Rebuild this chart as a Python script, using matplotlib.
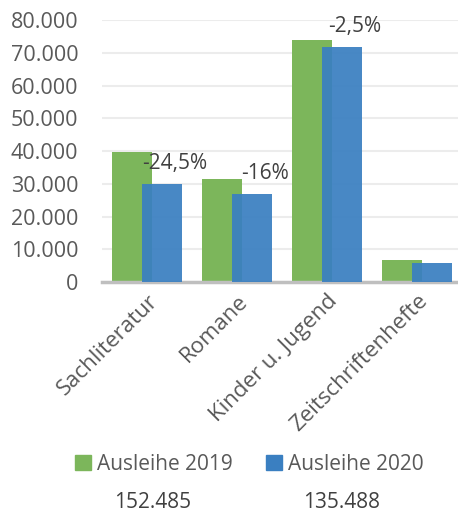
import matplotlib.pyplot as plt
import numpy as np
from matplotlib.patches import Patch

plt.rcParams['font.family'] = ['Open Sans', 'DejaVu Sans']

categories = ['Sachliteratur', 'Romane', 'Kinder u. Jugend', 'Zeitschriftenhefte']
ausleihe_2019 = [39600, 31500, 73900, 6700]
ausleihe_2020 = [30100, 26900, 71800, 5900]
changes = ['-24,5%', '-16%', '-2,5%', None]
totals = ['152.485', '135.488']
series_names = ['Ausleihe 2019', 'Ausleihe 2020']

green = '#7cb65b'
blue = '#3a7fc1'
text_gray = '#595959'

fig = plt.figure(figsize=(4.58, 5.13), dpi=100)
ax = fig.add_axes([0.2227, 0.450, 0.7773, 0.511])

x = np.arange(len(categories))
w = 0.444
off = 0.167
ax.bar(x - off, ausleihe_2019, width=w, color=green, zorder=2)
ax.bar(x + off, ausleihe_2020, width=w, color=blue, alpha=0.93, zorder=3)

# percentage change labels above the 2020 bars
for xi, v, lab in zip(x, ausleihe_2020, changes):
    if lab:
        ax.annotate(lab, xy=(xi + off, v), xytext=(13, 10), textcoords='offset pixels',
                    ha='center', va='bottom', fontsize=15, color='#404040', zorder=4)

ticks = np.arange(0, 80001, 10000)
ax.set_ylim(0, 80000)
ax.set_xlim(-0.5, 3.456)
ax.set_yticks(ticks)
ax.set_yticklabels([f'{int(t):,}'.replace(',', '.') for t in ticks])
ax.yaxis.grid(True, color='#ececec', linewidth=1.5, zorder=0)
ax.set_axisbelow(True)
for s in ['top', 'right', 'left']:
    ax.spines[s].set_visible(False)
ax.spines['bottom'].set_color('#bfbfbf')
ax.spines['bottom'].set_linewidth(2.5)
ax.tick_params(axis='y', length=0, labelsize=15.5, labelcolor=text_gray, pad=17)
ax.tick_params(axis='x', length=0, labelsize=16, labelcolor=text_gray, pad=6)
ax.set_xticks(x)
ax.set_xticklabels(categories, rotation=45, ha='right', rotation_mode='anchor')

handles = [Patch(color=green), Patch(color=blue)]
fig.legend(handles, series_names, loc='center', bbox_to_anchor=(0.545, 1 - 464 / 513), ncol=2,
           frameon=False, fontsize=15, labelcolor=text_gray, handlelength=0.75, handleheight=0.75,
           handletextpad=0.3, columnspacing=1.6)
fig.text(153 / 458, 1 - 503 / 513, totals[0], ha='center', va='center', fontsize=15, color='#404040')
fig.text(342 / 458, 1 - 503 / 513, totals[1], ha='center', va='center', fontsize=15, color='#404040')

fig.savefig('out.png', dpi=100)
